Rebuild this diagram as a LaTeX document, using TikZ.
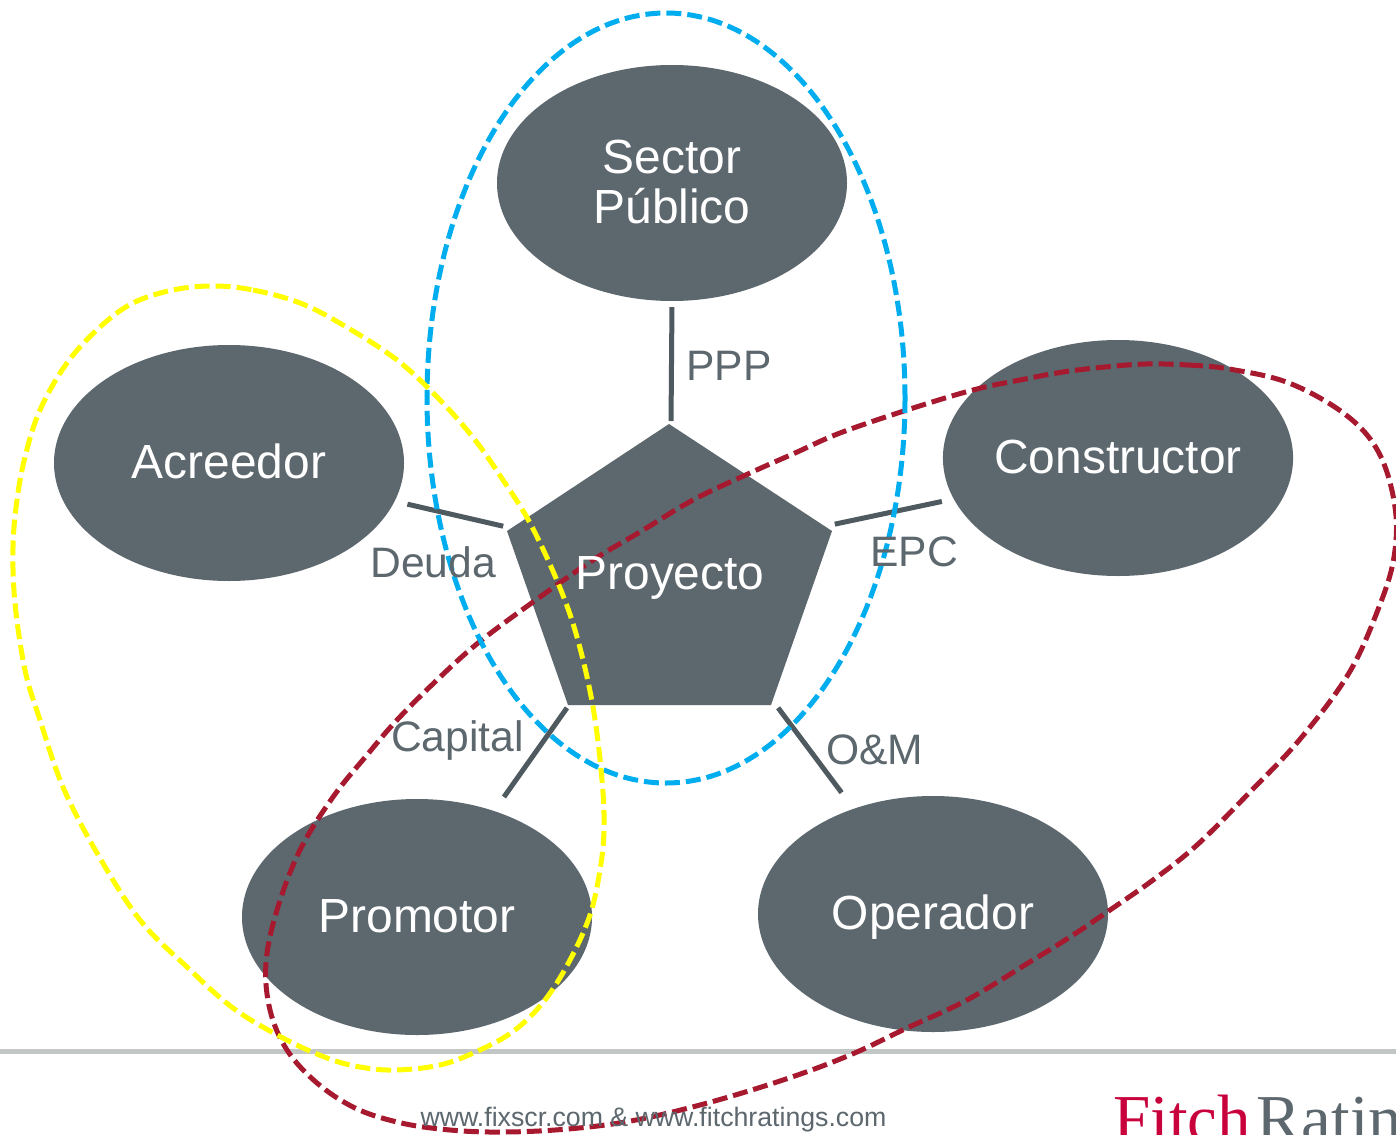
\documentclass[tikz,border=0pt]{standalone}
\usepackage{fontspec}
\setmainfont{Liberation Sans}
\newfontfamily\logofont{Liberation Serif}
\usetikzlibrary{shapes.geometric}
\definecolor{pizarra}{HTML}{5C676E}
\definecolor{enlacegris}{HTML}{4F5A60}
\definecolor{lineagris}{HTML}{C2C7C6}
\definecolor{rojolazo}{HTML}{A6192E}
\definecolor{azullazo}{HTML}{00AEEF}
\definecolor{amarillolazo}{HTML}{FFFF00}
\definecolor{fitchrojo}{HTML}{C8003C}
\tikzset{
	parte/.style={ellipse, fill=pizarra, text=white, minimum width=350pt, minimum height=236pt, inner sep=0pt, align=center, font=\fontsize{47.9}{50}\selectfont},
	unalinea/.style={text height=38pt, text depth=8pt},
	enlace/.style={line width=5pt, color=enlacegris},
	rotulo/.style={text=pizarra, inner sep=0pt, font=\fontsize{42.6}{46}\selectfont},
	lazo/.style={line width=5pt, dash pattern=on 15pt off 6pt}
}
\begin{document}
\begin{tikzpicture}[x=1pt, y=-1pt]
		
		\clip (0,0) rectangle (1396,1134);
		\fill[white] (0,0) rectangle (1396,1134);
		%\draw[style=help lines, step=100, color=gray] (0,0) grid (1396,1134);
		\draw[line width=5pt, color=lineagris] (0,1051) -- (1396,1051);
		
		\node[parte, text depth=2pt] (sector) at (672,183) {Sector\\Público};
		\node[parte, unalinea] (acreedor) at (229,463) {Acreedor};
		\node[parte, unalinea] (constructor) at (1118,458) {Constructor};
		\node[parte, unalinea] (promotor) at (417,917) {Promotor};
		\node[parte, unalinea] (operador) at (933,914) {Operador};
		
		\fill[pizarra] (669,424) -- (832,531) -- (771,705) -- (568,705) -- (507,531) -- cycle;
		\coordinate (penN) at (671,425);
		\coordinate (penE) at (826,526);
		\coordinate (penW) at (511,528);
		\coordinate (penSO) at (569,705);
		\coordinate (penSE) at (776,705);
		
		\draw[enlace, shorten <=6pt, shorten >=4pt] (sector.south) -- (penN);
		\draw[enlace, shorten <=13pt, shorten >=8pt] (acreedor.-13) -- (penW);
		\draw[enlace, shorten <=12pt, shorten >=9pt] (constructor.-166.4) -- (penE);
		\draw[enlace, shorten <=17pt, shorten >=3.5pt] (promotor.54.3) -- (penSO);
		\draw[enlace, shorten <=20pt, shorten >=3.5pt] (operador.127) -- (penSE);
		
		\draw[lazo, color=rojolazo] plot[smooth cycle, tension=0.6] coordinates {(1146,364) (1188,365) (1229,369) (1289,383) (1346,415) (1379,453) (1395,507) (1394,557) (1379,607) (1349,673) (1301,738) (1250,792) (1197,845) (1153,880) (1110,910) (1070,937) (1033,960) (967,1000) (907,1028) (850,1055) (783,1080) (700,1105) (625,1122) (555,1130) (490,1132) (440,1129) (397,1122) (355,1108) (317,1083) (287,1050) (270,1010) (266,963) (277,910) (300,850) (333,797) (367,755) (397,720) (437,680) (478,643) (533,602) (593,560) (640,532) (693,500) (750,473) (795,453) (840,433) (907,410) (973,390) (1020,380) (1063,372) (1105,367)};
		\draw[lazo, color=azullazo] (666,398) ellipse (239 and 385);
		\draw[lazo, color=amarillolazo] plot[smooth cycle, tension=0.6] coordinates {(213,286) (253,290) (300,303) (343,325) (397,360) (440,400) (475,440) (503,480) (530,523) (558,583) (577,637) (593,707) (602,780) (604,830) (600,870) (590,915) (570,960) (545,1000) (515,1030) (480,1050) (440,1065) (395,1070) (360,1067) (327,1058) (283,1038) (233,1008) (187,967) (140,920) (97,853) (63,787) (40,720) (25,670) (15,603) (13,547) (17,500) (25,457) (40,410) (67,363) (100,327) (133,303) (173,290)};
		
		\node[text=white, inner sep=0pt, font=\fontsize{47.9}{50}\selectfont] (proyecto) at (670,578) {Proyecto};
		\node[rotulo, anchor=west] (ppp) at (686,366) {PPP};
		\node[rotulo, anchor=east] (deuda) at (496,562) {Deuda};
		\node[rotulo, anchor=west] (epc) at (870,552) {EPC};
		\node[rotulo, anchor=east] (capital) at (524,740) {Capital};
		\node[rotulo, anchor=west] (om) at (826,750) {O\&M};
		
		\node[text=pizarra, inner sep=0pt, font=\fontsize{26.7}{28}\selectfont] (web) at (653.5,1120) {www.fixscr.com \& www.fitchratings.com};
		\node[inner sep=0pt, anchor=base west, font=\logofont\fontsize{67}{67}\selectfont] (logo) at (1113,1141) {\textcolor{fitchrojo}{Fitch}\kern6pt\textcolor{pizarra}{Ratings}};
		
		\end{tikzpicture}
\end{document}
